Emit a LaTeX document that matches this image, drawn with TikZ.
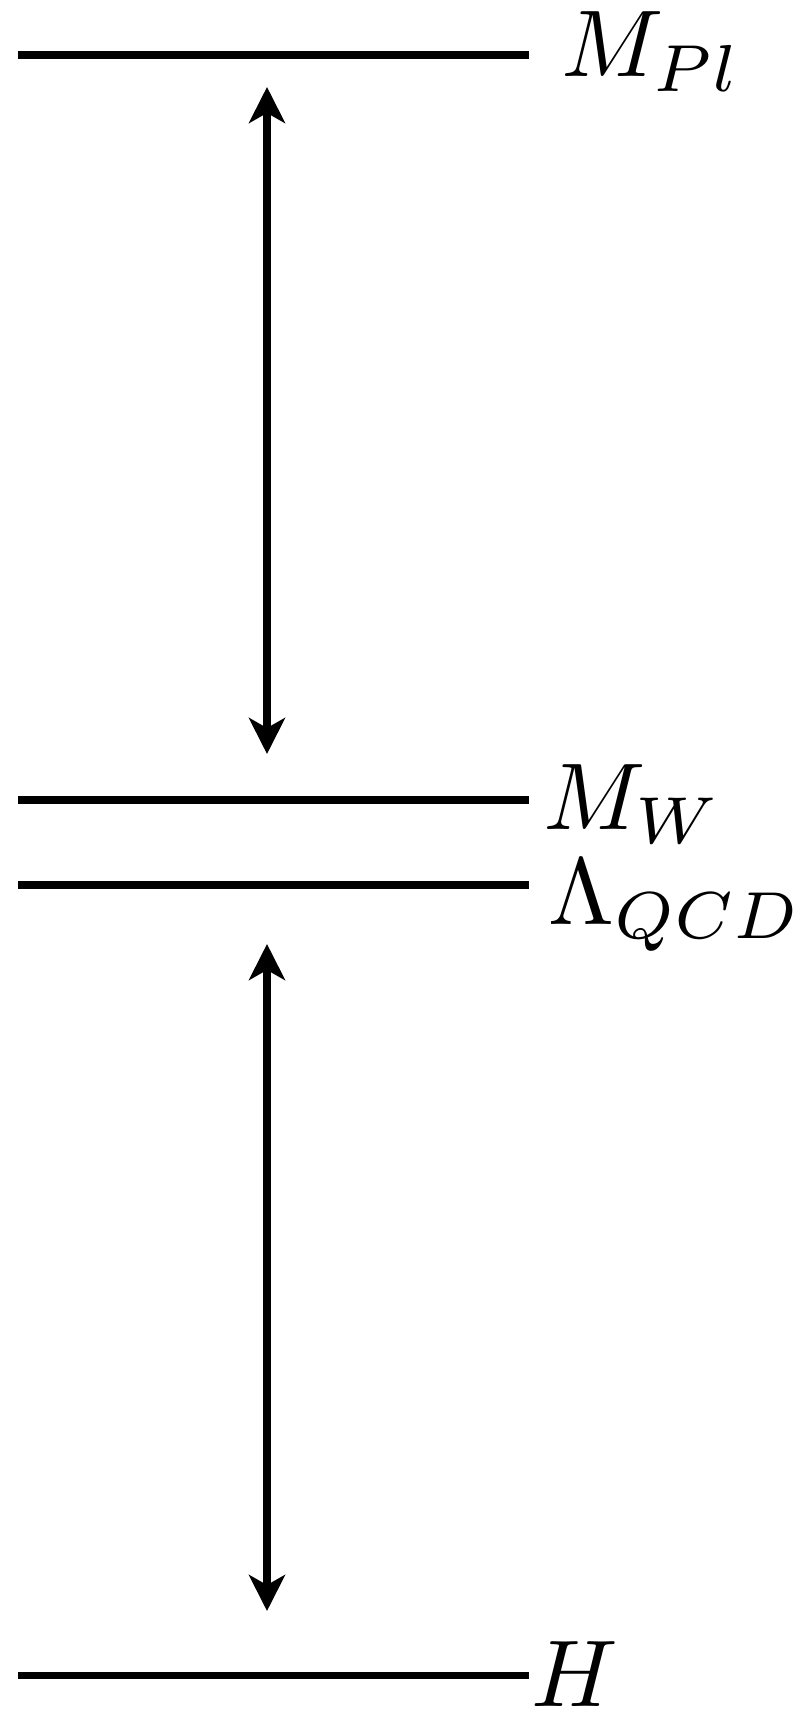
\documentclass[tikz,border=0pt]{standalone}
\usepackage{amsmath}
\usepackage{amssymb}
\usepackage{tikz}
\usetikzlibrary{arrows.meta}

\begin{document}
\begin{tikzpicture}[x=1cm,y=1cm,
        level/.style={line width=2pt},
        gap/.style={line width=2pt,{Stealth[length=0.36cm,width=0.36cm,inset=0.1cm]}-{Stealth[length=0.36cm,width=0.36cm,inset=0.1cm]}},
        scalelabel/.style={anchor=base west,inner sep=0pt,scale=2.7}]
        \useasboundingbox (0,0) rectangle (7.99,-17.09);
        % energy levels
        \draw[level] (0.18,-0.55)--(5.29,-0.55);
        \draw[level] (0.18,-8.00)--(5.29,-8.00);
        \draw[level] (0.18,-8.85)--(5.29,-8.85);
        \draw[level] (0.18,-16.75)--(5.29,-16.75);
        \node[scalelabel] (mpl) at (5.60,-0.77) {$M_{Pl}$};
        \node[scalelabel] (mw) at (5.42,-8.29) {$M_W$};
        \node[scalelabel] (lqcd) at (5.47,-9.24) {$\Lambda_{QCD}$};
        \node[scalelabel] (h) at (5.30,-17.06) {$H$};
        % hierarchies
        \coordinate (a1) at (2.67,-0.87); \coordinate (b1) at (2.67,-7.54);
        \coordinate (a2) at (2.67,-9.44); \coordinate (b2) at (2.67,-16.11);
        \draw[gap] (a1)--(b1);
        \draw[gap] (a2)--(b2);
    \end{tikzpicture}
\end{document}
